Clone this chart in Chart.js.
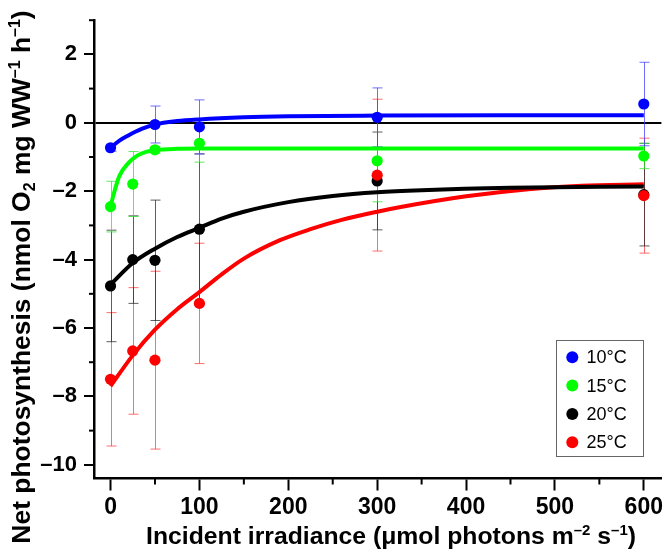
<!DOCTYPE html>
<html><head><meta charset="utf-8">
<script src="https://cdn.jsdelivr.net/npm/chart.js@4/dist/chart.umd.min.js"></script>
<style>html,body{margin:0;padding:0;background:#fff}#wrap{width:667px;height:551px;position:relative}</style>
</head><body><div id="wrap"><canvas id="c" width="667" height="551"></canvas></div>
<script>
// ---- data ----
const seriesLabels = ['10°C', '15°C', '20°C', '25°C'];
const irradiance = [0, 25, 50, 100, 300, 600];
const net10 = [-0.73, null, -0.05, -0.12, 0.16, 0.55];
const net15 = [-2.45, -1.79, -0.79, -0.60, -1.11, -0.97];
const net20 = [-4.77, -4.00, -4.02, -3.11, -1.70, -2.10];
const net25 = [-7.50, -6.67, -6.94, -5.28, -1.53, -2.13];
const sd10 = [0.10, null, 0.54, 0.79, 0.86, 1.22];
const sd15 = [0.74, 0.95, 0.10, 0.55, 1.20, 0.37];
const sd20 = [1.63, 1.28, 1.76, 2.20, 1.43, 1.50];
const sd25 = [1.95, 1.85, 2.60, 1.76, 2.22, 1.68];
// fitted curves
const fitX10 = [0, 10, 20, 35, 50, 75, 100, 150, 200, 300, 450, 600];
const fit10 = [-0.73, -0.52, -0.37, -0.18, -0.05, 0.05, 0.10, 0.16, 0.19, 0.21, 0.22, 0.22];
const fitX15 = [0, 5, 10, 20, 30, 40, 50, 75, 100, 200, 400, 600];
const fit15 = [-2.44, -1.95, -1.55, -1.18, -0.96, -0.85, -0.80, -0.76, -0.75, -0.75, -0.75, -0.75];
const fitX20 = [0, 25, 50, 75, 100, 125, 150, 200, 250, 300, 350, 450, 600];
const fit20 = [-4.73, -4.10, -3.68, -3.34, -3.07, -2.80, -2.60, -2.32, -2.14, -2.03, -1.97, -1.90, -1.86];
const fitX25 = [0, 25, 50, 75, 100, 125, 150, 190, 225, 260, 300, 325, 400, 470, 530, 600];
const fit25 = [-7.70, -6.80, -6.05, -5.45, -4.95, -4.43, -3.97, -3.44, -3.11, -2.84, -2.60, -2.47, -2.15, -1.94, -1.84, -1.80];
const xTickLabels = [0, 100, 200, 300, 400, 500, 600];
const yTickLabels = [2, 0, -2, -4, -6, -8, -10];
const xTitle = [['Incident irradiance (\u03bcmol photons m', 'n'], ['\u20132', 'sup'], [' s', 'n'], ['\u20131', 'sup'], [')', 'n']];
const yTitle = [['Net photosynthesis (nmol O', 'n'], ['2', 'sub'], [' mg WW', 'n'], ['\u20131', 'sup'], [' h', 'n'], ['\u20131', 'sup'], [')', 'n']];

const colors = ['#0000ff', '#00ff00', '#000000', '#ff0000'];
const errColors = ['rgba(60,60,255,0.75)', 'rgba(40,230,40,0.75)', 'rgba(40,40,40,0.75)', 'rgba(255,60,60,0.75)'];
const means = [net10, net15, net20, net25];
const sds = [sd10, sd15, sd20, sd25];
const fitXs = [fitX10, fitX15, fitX20, fitX25];
const fits = [fit10, fit15, fit20, fit25];

const toPts = (xs, ys) => xs.map((x, i) => ({x: x, y: ys[i]})).filter(p => p.y !== null);

const datasets = [];
const pointOrder = [3, 2, 1, 0];
for (let s = 0; s < 4; s++) {
  datasets.push({
    label: seriesLabels[s], data: toPts(irradiance, means[s]),
    pointRadius: 5.6, pointHoverRadius: 5.6, pointBackgroundColor: colors[s], pointBorderWidth: 0,
    borderColor: colors[s], showLine: false, order: pointOrder[s]
  });
}
for (let s = 0; s < 4; s++) {
  datasets.push({
    label: seriesLabels[s] + ' fit', data: toPts(fitXs[s], fits[s]),
    showLine: true, pointRadius: 0, borderColor: colors[s], borderWidth: 4,
    cubicInterpolationMode: 'monotone', order: 10 + s
  });
}

const fmt = v => (v < 0 ? '\u2013' + Math.abs(v) : String(v));
const FAM = '"Liberation Sans", Arial, sans-serif';
const NARROW = '"Liberation Sans Narrow", "Arial Narrow", "Liberation Sans", Arial, sans-serif';

const errorBars = {
  id: 'errorBars',
  beforeDatasetsDraw(chart) {
    const ctx = chart.ctx, xs = chart.scales.x, ys = chart.scales.y;
    ctx.save();
    ctx.lineWidth = 1;
    for (let s = 3; s >= 0; s--) {
      ctx.strokeStyle = errColors[s];
      irradiance.forEach((x, i) => {
        const m = means[s][i], e = sds[s][i];
        if (m === null || e === null) return;
        const px = Math.round(xs.getPixelForValue(x)) + 0.5;
        const t = ys.getPixelForValue(m + e), b = ys.getPixelForValue(m - e);
        ctx.beginPath();
        ctx.moveTo(px, t); ctx.lineTo(px, b);
        ctx.moveTo(px - 5, t); ctx.lineTo(px + 5, t);
        ctx.moveTo(px - 5, b); ctx.lineTo(px + 5, b);
        ctx.stroke();
      });
    }
    ctx.restore();
  }
};

const minorTicks = {
  id: 'minorTicks',
  afterDraw(chart) {
    const ctx = chart.ctx, xs = chart.scales.x, ys = chart.scales.y, a = chart.chartArea;
    ctx.save();
    ctx.strokeStyle = '#000'; ctx.lineWidth = 2;
    ys.ticks.forEach(t => {
      if (Math.abs(t.value) % 2 === 1) {
        const py = ys.getPixelForValue(t.value);
        ctx.beginPath(); ctx.moveTo(a.left - 5, py); ctx.lineTo(a.left, py); ctx.stroke();
      }
    });
    xs.ticks.forEach(t => {
      if (t.value % 100 !== 0) {
        const px = xs.getPixelForValue(t.value);
        ctx.beginPath(); ctx.moveTo(px, a.bottom); ctx.lineTo(px, a.bottom + 6); ctx.stroke();
      }
    });
    ctx.restore();
  }
};

function richWidth(ctx, segs, size) {
  let w = 0;
  segs.forEach(([t, k]) => {
    ctx.font = 'bold ' + (k === 'n' ? size : Math.round(size * 0.62)) + 'px ' + FAM;
    w += ctx.measureText(t).width;
  });
  return w;
}
function drawRich(ctx, segs, cx, baseY, rot, targetW) {
  ctx.save();
  ctx.translate(cx, baseY);
  if (rot) ctx.rotate(-Math.PI / 2);
  const size = 25 * targetW / richWidth(ctx, segs, 25);
  const w = richWidth(ctx, segs, size);
  let x = -w / 2;
  ctx.fillStyle = '#000'; ctx.textBaseline = 'alphabetic'; ctx.textAlign = 'left';
  segs.forEach(([t, k]) => {
    const sz = k === 'n' ? size : Math.round(size * 0.62);
    ctx.font = 'bold ' + sz + 'px ' + FAM;
    const dy = k === 'sup' ? -size * 0.38 : (k === 'sub' ? size * 0.2 : 0);
    ctx.fillText(t, x, dy);
    x += ctx.measureText(t).width;
  });
  ctx.restore();
}

const titles = {
  id: 'titles',
  afterDraw(chart) {
    const ctx = chart.ctx;
    drawRich(ctx, xTitle, 391, 544, false, 492);
    drawRich(ctx, yTitle, 30, 277, true, 536);
  }
};

const boxLegend = {
  id: 'boxLegend',
  afterDraw(chart) {
    const ctx = chart.ctx;
    const x0 = 556.5, y0 = 340.5, w = 87, h = 116;
    ctx.save();
    ctx.fillStyle = '#fff';
    ctx.fillRect(x0, y0, w, h);
    ctx.strokeStyle = '#666'; ctx.lineWidth = 1;
    ctx.strokeRect(x0, y0, w, h);
    ctx.font = '18px ' + FAM;
    ctx.textBaseline = 'middle'; ctx.textAlign = 'left';
    for (let s = 0; s < 4; s++) {
      const cy = 357.3 + s * 28.3;
      ctx.fillStyle = colors[s];
      ctx.beginPath(); ctx.arc(572.3, cy, 6, 0, Math.PI * 2); ctx.fill();
      ctx.fillStyle = '#000';
      ctx.fillText(seriesLabels[s], 586.5, cy + 1);
    }
    ctx.restore();
  }
};

new Chart(document.getElementById('c'), {
  type: 'scatter',
  data: {datasets: datasets},
  plugins: [errorBars, minorTicks, boxLegend, titles],
  options: {
    responsive: false, devicePixelRatio: 1, animation: false,
    layout: {padding: {top: 12, right: 1, left: 0, bottom: 0}},
    plugins: {legend: {display: false}, tooltip: {enabled: false}},
    scales: {
      x: {
        type: 'linear', min: -18.6, max: 619.8,
        afterFit: s => { s.height = 72.5; },
        border: {color: '#000', width: 2.5},
        grid: {drawOnChartArea: false, tickLength: 12, tickWidth: 2,
               tickColor: c => (c.tick && c.tick.value % 100 === 0) ? '#000' : 'rgba(0,0,0,0)'},
        ticks: {stepSize: 50, includeBounds: false, padding: 3, color: '#000',
                font: {family: NARROW, size: 23, weight: 'bold'},
                callback: v => xTickLabels.includes(v) ? String(v) : ''},
        title: {display: false}
      },
      y: {
        type: 'linear', min: -10.4, max: 3,
        afterFit: s => { s.width = 94; },
        border: {color: '#000', width: 2.5},
        grid: {drawOnChartArea: true, tickLength: 10, tickWidth: 2,
               color: c => (c.tick && c.tick.value === 0) ? '#000' : 'rgba(0,0,0,0)',
               lineWidth: c => (c.tick && c.tick.value === 0) ? 2 : 0,
               tickColor: c => (c.tick && Math.abs(c.tick.value) % 2 === 0) ? '#000' : 'rgba(0,0,0,0)'},
        ticks: {stepSize: 1, includeBounds: false, padding: 7, color: '#000',
                font: {family: NARROW, size: 22, weight: 'bold'},
                callback: v => yTickLabels.includes(v) ? fmt(v) : ''},
        title: {display: false}
      }
    }
  }
});
</script></body></html>
